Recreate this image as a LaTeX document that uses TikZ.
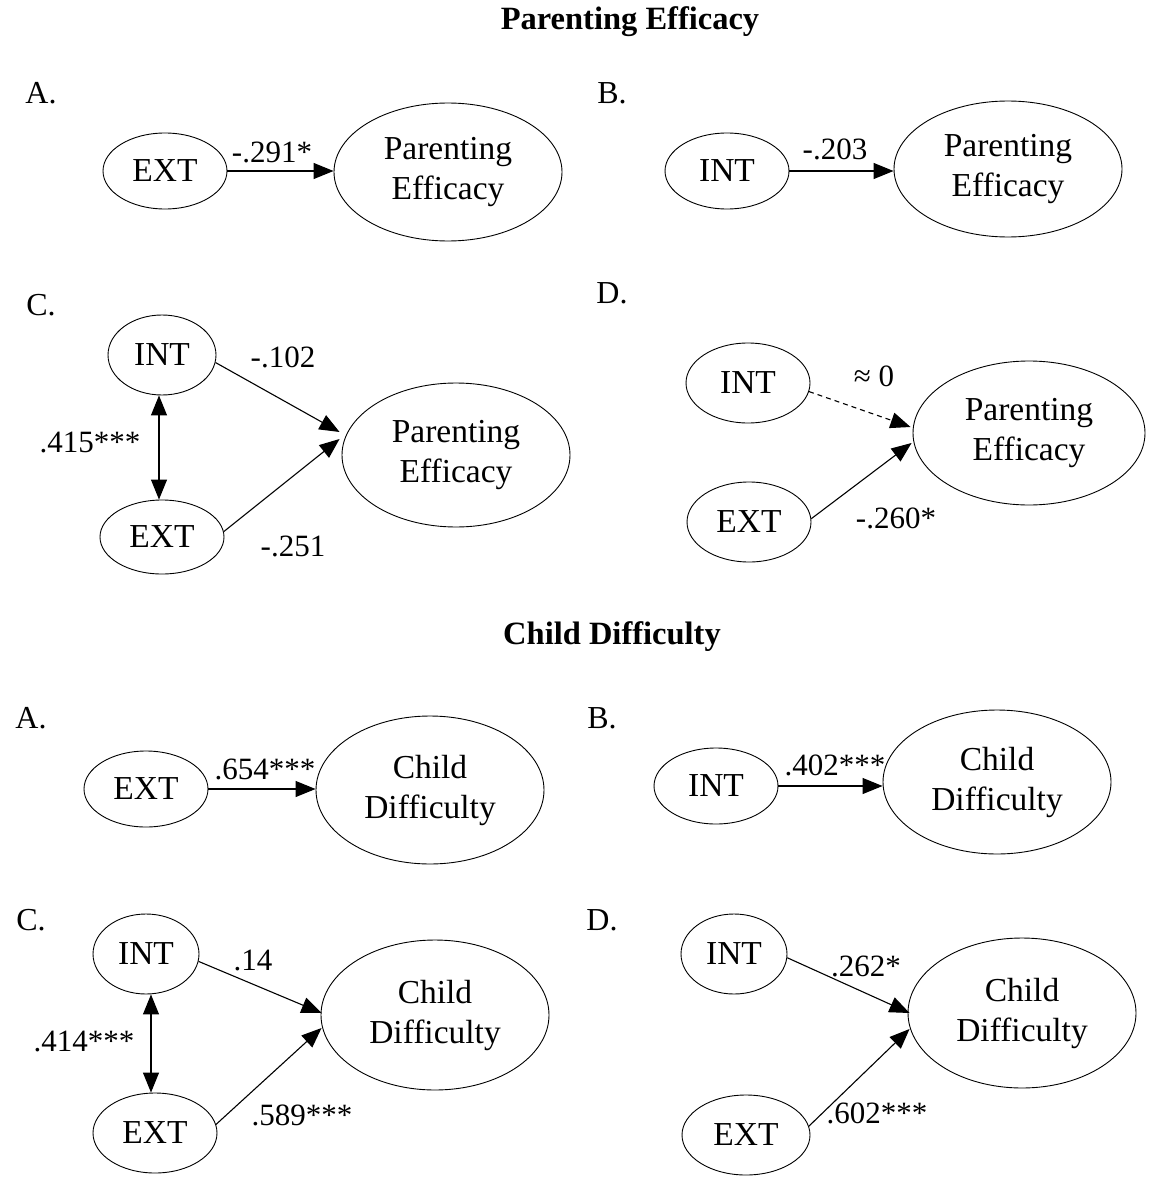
\documentclass[tikz,border=0pt]{standalone}
\usepackage{fontspec}
\setmainfont{Liberation Serif}
\usetikzlibrary{shapes.geometric,arrows.meta,calc}

\tikzset{
  oval/.style={draw, ellipse, line width=0.9pt, inner sep=0pt, align=center,
    font=\fontsize{33.5}{40}\selectfont},
  small/.style={oval, minimum width=124pt, minimum height=76pt},
  big/.style={oval, minimum width=228pt, minimum height=144pt},
  path/.style={line width=1.1pt, -{Triangle[length=20pt,width=16pt]}},
  both/.style={line width=1.1pt, {Triangle[length=20pt,width=16pt]}-{Triangle[length=20pt,width=16pt]}},
  coef/.style={font=\fontsize{31}{34}\selectfont, inner sep=0pt},
  panel/.style={font=\fontsize{32}{34}\selectfont, inner sep=0pt},
  heading/.style={font=\fontsize{32.5}{36}\selectfont\bfseries, inner sep=0pt}
}

\begin{document}
\begin{tikzpicture}[x=1pt, y=-1pt]
\useasboundingbox (0,0) rectangle (1149,1177);

% ---------- Parenting Efficacy ----------
\node[heading] (t1) at (630,22) {Parenting Efficacy};

% A
\node[panel] (pA) at (41,93) {A.};
\node[small] (exta) at (165,171) {EXT};
\node[big, minimum height=138pt] (pea) at (448,172) {Parenting\\Efficacy};
\draw[path] (exta.east) -- (exta.east -| pea.west);
\node[coef] (la) at (272,152) {-.291*};

% B
\node[panel] (pB) at (612,93) {B.};
\node[small] (intb) at (727,171) {INT};
\node[big, minimum height=136pt] (peb) at (1008,169) {Parenting\\Efficacy};
\draw[path] (intb.east) -- (intb.east -| peb.west);
\node[coef] (lb) at (835,149) {-.203};

% C
\node[panel] (pC) at (41,305) {C.};
\node[small, minimum width=108pt, minimum height=80pt] (intc) at (162,355) {INT};
\node[small, minimum height=74pt] (extc) at (162,537) {EXT};
\node[big] (pec) at (456,455) {Parenting\\Efficacy};
\coordinate (pec1) at ($(pec.west)+(-2,-23)$);
\coordinate (pec2) at ($(pec.west)+(-2,-16)$);
\draw[both] ([xshift=-3pt]intc.south) -- ([xshift=-3pt]intc.south |- extc.north);
\draw[path] (intc.-8) -- (pec1);
\draw[path] (extc.5) -- (pec2);
\node[coef] (lc1) at (90,442) {.415***};
\node[coef] (lc2) at (283,357) {-.102};
\node[coef] (lc3) at (293,546) {-.251};

% D
\node[panel] (pD) at (612,293) {D.};
\node[small, minimum height=80pt] (intd) at (748,383) {INT};
\node[small, minimum height=80pt] (extd) at (749,522) {EXT};
\node[big, minimum width=232pt] (ped) at (1029,433) {Parenting\\Efficacy};
\coordinate (ped1) at ($(ped.west)+(-2,-6)$);
\coordinate (ped2) at ($(ped.west)+(-1,10)$);
\draw[path, dash pattern=on 5pt off 4pt] (intd.-8) -- (ped1);
\draw[path] (extd.3) -- (ped2);
\node[coef] (ld1) at (874,376) {≈ 0};
\node[coef] (ld2) at (896,518) {-.260*};

% ---------- Child Difficulty ----------
\node[heading] (t2) at (612,637) {Child Difficulty};

% A
\node[panel] (qA) at (31,718) {A.};
\node[small] (exta2) at (146,789) {EXT};
\node[big, minimum height=148pt] (cda) at (430,790) {Child\\Difficulty};
\draw[path] (exta2.east) -- (exta2.east -| cda.west);
\node[coef] (ma) at (265,769) {.654***};

% B
\node[panel] (qB) at (602,718) {B.};
\node[small] (intb2) at (716,786) {INT};
\node[big] (cdb) at (997,782) {Child\\Difficulty};
\draw[path] (intb2.east) -- (intb2.east -| cdb.west);
\node[coef] (mb) at (835,765) {.402***};

% C
\node[panel] (qC) at (31,920) {C.};
\node[small, minimum width=106pt, minimum height=80pt] (intc2) at (146,954) {INT};
\node[small, minimum height=80pt] (extc2) at (155,1133) {EXT};
\node[big, minimum height=150pt] (cdc) at (435,1015) {Child\\Difficulty};
\coordinate (cdc1) at ($(cdc.west)+(1,-2)$);
\coordinate (cdc2) at ($(cdc.west)+(1,13)$);
\draw[both] ([xshift=5pt]intc2.south) -- ([xshift=5pt]intc2.south |- extc2.north);
\draw[path] (intc2.-8) -- (cdc1);
\draw[path] (extc2.8) -- (cdc2);
\node[coef] (mc1) at (84,1041) {.414***};
\node[coef] (mc2) at (253,960) {.14};
\node[coef] (mc3) at (302,1115) {.589***};

% D
\node[panel] (qD) at (602,920) {D.};
\node[small, minimum width=106pt, minimum height=80pt] (intd2) at (734,954) {INT};
\node[small, minimum width=128pt, minimum height=80pt] (extd2) at (746,1135) {EXT};
\node[big, minimum height=150pt] (cdd) at (1022,1013) {Child\\Difficulty};
\coordinate (cdd1) at ($(cdd.west)+(2,0)$);
\coordinate (cdd2) at ($(cdd.west)+(2,16)$);
\draw[path] (intd2.-4) -- (cdd1);
\draw[path] (extd2.8) -- (cdd2);
\node[coef] (md1) at (866,966) {.262*};
\node[coef] (md2) at (877,1113) {.602***};
\end{tikzpicture}
\end{document}
